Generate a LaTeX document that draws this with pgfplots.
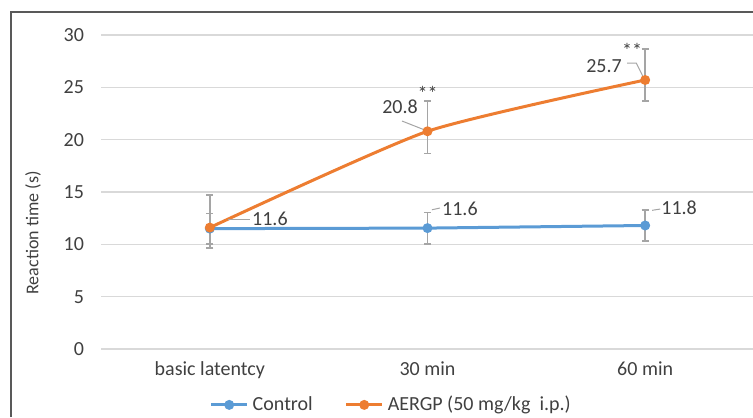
\documentclass[border=0pt]{standalone}
\usepackage{fontspec}
\setmainfont{Carlito}
\usepackage{pgfplots}
\pgfplotsset{compat=1.18}
\definecolor{ctrlblue}{HTML}{5B9BD5}
\definecolor{aergporange}{HTML}{ED7D31}
\definecolor{txtgray}{HTML}{404040}
\definecolor{errgray}{HTML}{A5A5A5}

\begin{document}
\begin{tikzpicture}
\useasboundingbox (0,0) rectangle (376.5pt,208.5pt);
% outer frame (only left and top edges visible)
\draw[black!65, line width=0.8pt] (5.5pt,0) -- (5.5pt,202.5pt) -- (376.5pt,202.5pt);
\node[rotate=90, font=\fontsize{9}{11}\selectfont, text=txtgray] at (16.5pt,92pt) {Reaction time (s)};
\begin{axis}[
  at={(50.5pt,34pt)}, anchor=south west,
  scale only axis, width=326.5pt, height=157pt,
  xmin=0.5, xmax=3.5, ymin=0, ymax=30,
  xtick={1,2,3}, xticklabels={basic latentcy,30 min,60 min},
  ytick={0,5,...,30},
  axis line style={draw=none}, major tick length=0pt,
  ymajorgrids, grid style={black!15, line width=0.6pt},
  tick label style={font=\fontsize{10}{12}\selectfont, text=txtgray},
  /pgf/number format/assume math mode=true,
  yticklabel style={xshift=-5pt},
  xticklabel style={yshift=-3pt},
  legend style={at={(0.446,-0.178)}, anchor=center, draw=none, fill=none,
    font=\fontsize{10}{12}\selectfont, text=txtgray,
    /tikz/every even column/.append style={column sep=14pt}},
  legend columns=2,
  legend image code/.code={
    \draw[#1] (0pt,0pt) -- (18pt,0pt);
    \draw[#1, mark repeat=1] plot coordinates {(9pt,0pt)};},
  error bars/error bar style={errgray, line width=0.75pt},
  error bars/error mark options={errgray, line width=0.75pt, rotate=90, mark size=1.8pt},
]
\addplot[ctrlblue, line width=1.5pt, mark=*, mark size=1.7pt,
  error bars/.cd, y dir=both, y explicit]
coordinates {(1,11.5) +-(0,1.45) (2,11.55) +-(0,1.5) (3,11.8) +-(0,1.5)};
\addlegendentry{Control}
\addplot[aergporange, line width=1.5pt, mark=*, mark size=1.7pt, smooth, tension=0.35,
  error bars/.cd, y dir=both, y explicit]
coordinates {(1,11.6) +=(0,3.1) -=(0,1.95) (2,20.8) +=(0,2.9) -=(0,2.1) (3,25.7) +=(0,2.95) -=(0,2.0)};
\addlegendentry{AERGP (50 mg/kg\ \ i.p.)}
% data labels and leader lines
\begin{scope}[every node/.style={font=\fontsize{10}{12}\selectfont, text=txtgray}]
\node at (axis cs:1.276,12.42) {11.6};
\node at (axis cs:1.874,23.1) {20.8};
\node at (axis cs:2.149,13.37) {11.6};
\node at (axis cs:2.811,27.03) {25.7};
\node at (axis cs:3.156,13.47) {11.8};
\node at (axis cs:2.0,24.45) {**};
\node at (axis cs:2.94,28.55) {**};
\end{scope}
\draw[errgray, line width=0.5pt] (axis cs:1.083,12.42) -- (axis cs:1.184,12.42);
\draw[errgray, line width=0.5pt] (axis cs:1.883,21.78) -- (axis cs:2.0,20.82);
\draw[errgray, line width=0.5pt] (axis cs:2.02,13.3) -- (axis cs:2.057,13.47);
\draw[errgray, line width=0.5pt] (axis cs:2.917,27.32) -- (axis cs:2.959,27.32) -- (axis cs:2.991,25.98);
\draw[errgray, line width=0.5pt] (axis cs:3.032,13.25) -- (axis cs:3.069,13.37);
\end{axis}
\end{tikzpicture}
\end{document}
